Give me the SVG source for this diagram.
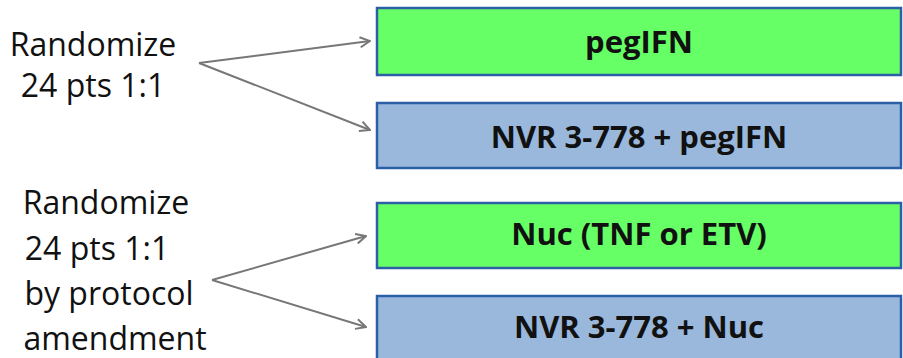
<svg xmlns="http://www.w3.org/2000/svg" width="903" height="358" viewBox="0 0 903 358">
<style>
.lbl{font-family:"Open Sans","Liberation Sans",sans-serif;font-size:32px;fill:#111;text-anchor:middle}
.bt{font-family:"Open Sans","Liberation Sans",sans-serif;font-size:31px;font-weight:bold;fill:#111;text-anchor:middle}
.g{fill:#66ff66;stroke:#2d5fa6;stroke-width:2.5}
.b{fill:#99b8dc;stroke:#2d5fa6;stroke-width:2.5}
.c{fill:none;stroke:#777;stroke-width:2}
</style>
<defs>
<marker id="ah" viewBox="0 0 12 12" refX="11" refY="6" markerWidth="12" markerHeight="12" markerUnits="userSpaceOnUse" orient="auto">
<path d="M1,1 L11,6 L1,11" fill="none" stroke="#777" stroke-width="2"/>
</marker>
</defs>
<g id="label1">
<text class="lbl" x="93" y="56">Randomize</text>
<text class="lbl" x="93" y="97">24 pts 1:1</text>
</g>
<g id="label2">
<text class="lbl" x="106" y="214">Randomize</text>
<text class="lbl" x="97" y="260">24 pts 1:1</text>
<text class="lbl" x="109" y="305">by protocol</text>
<text class="lbl" x="115" y="350">amendment</text>
</g>
<g id="connectors">
<path class="c" d="M199,63 L370,41" marker-end="url(#ah)"/>
<path class="c" d="M199,63 L370,130" marker-end="url(#ah)"/>
<path class="c" d="M212,280 L366,236" marker-end="url(#ah)"/>
<path class="c" d="M212,280 L366,327" marker-end="url(#ah)"/>
</g>
<g id="box1">
<rect class="g" x="377" y="8" width="524" height="67"/>
<text class="bt" x="639" y="53">pegIFN</text>
</g>
<g id="box2">
<rect class="b" x="377" y="103" width="524" height="65"/>
<text class="bt" x="639" y="148">NVR 3-778 + pegIFN</text>
</g>
<g id="box3">
<rect class="g" x="377" y="203" width="524" height="65"/>
<text class="bt" x="639" y="245">Nuc (TNF or ETV)</text>
</g>
<g id="box4">
<rect class="b" x="377" y="296" width="524" height="70"/>
<text class="bt" x="639" y="338">NVR 3-778 + Nuc</text>
</g>
</svg>
